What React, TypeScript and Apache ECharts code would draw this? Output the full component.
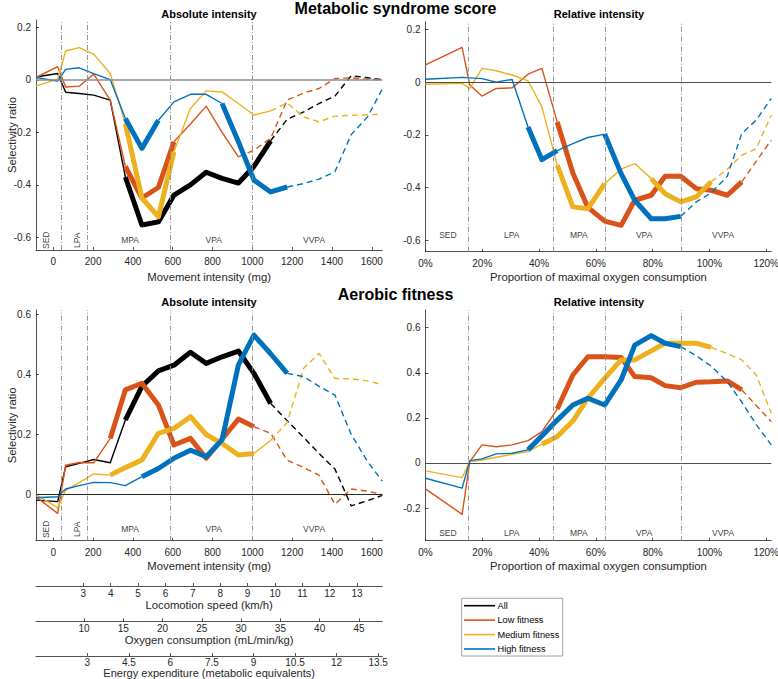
import React, { useEffect, useRef } from "react";
import * as echarts from "echarts";

// ---------- data ----------
const absX = [-87, 22, 62, 130, 203, 286, 362, 445, 528, 606, 689, 768, 848, 930, 1008, 1092, 1175, 1258, 1335, 1415, 1497, 1579, 1653];
const relX = [0, 12.9, 15.6, 19.9, 24.9, 30.5, 36.1, 41, 46.4, 51.9, 57.2, 63.1, 68.9, 73.7, 79.5, 84.4, 89.9, 95.4, 100.6, 106.3, 111.4, 116.5, 121.8];

// Metabolic syndrome score, absolute intensity
const msAbsAll = [0.011, 0.024, -0.047, -0.052, -0.058, -0.077, -0.37, -0.553, -0.541, -0.439, -0.4, -0.352, -0.375, -0.393, -0.33, -0.232, -0.15, -0.122, -0.09, -0.062, 0.016, 0.008, 0.001];
const msAbsLow = [0.009, 0.05, -0.027, -0.024, 0.022, -0.077, -0.33, -0.45, -0.41, -0.236, -0.168, -0.1, -0.2, -0.293, -0.268, -0.223, -0.077, -0.05, -0.033, 0.005, 0.008, 0.002, 0];
const msAbsMed = [-0.024, 0.003, 0.11, 0.123, 0.098, 0.024, -0.166, -0.45, -0.522, -0.274, -0.109, -0.042, -0.046, -0.09, -0.134, -0.118, -0.088, -0.141, -0.16, -0.138, -0.135, -0.133, -0.131];
const msAbsHigh = [0.009, -0.005, 0.04, 0.046, 0.024, 0.001, -0.147, -0.261, -0.154, -0.084, -0.055, -0.055, -0.09, -0.236, -0.382, -0.427, -0.408, -0.395, -0.378, -0.35, -0.208, -0.141, -0.035];
// Metabolic syndrome score, relative intensity
const msRelLow = [0.065, 0.132, -0.011, -0.053, -0.024, -0.022, 0.03, 0.052, -0.151, -0.345, -0.475, -0.527, -0.543, -0.448, -0.429, -0.357, -0.357, -0.404, -0.41, -0.429, -0.378, -0.3, -0.22];
const msRelMed = [-0.008, -0.005, -0.024, 0.052, 0.043, 0.027, 0.005, -0.094, -0.315, -0.473, -0.48, -0.385, -0.33, -0.309, -0.366, -0.423, -0.454, -0.435, -0.378, -0.33, -0.277, -0.252, -0.125];
const msRelHigh = [0.011, 0.018, 0.016, 0.013, 0.0, 0.01, -0.17, -0.294, -0.26, -0.233, -0.21, -0.197, -0.347, -0.448, -0.518, -0.518, -0.509, -0.454, -0.42, -0.357, -0.195, -0.144, -0.062];
// Aerobic fitness, absolute intensity
const afAbsAll = [-0.018, -0.023, 0.093, 0.104, 0.117, 0.106, 0.248, 0.36, 0.411, 0.43, 0.473, 0.436, 0.458, 0.477, 0.403, 0.303, 0.246, 0.19, 0.137, 0.085, -0.037, -0.02, -0.002];
const afAbsLow = [-0.007, -0.062, 0.098, 0.107, 0.106, 0.187, 0.348, 0.37, 0.298, 0.165, 0.187, 0.121, 0.185, 0.251, 0.226, 0.204, 0.115, 0.09, 0.065, -0.032, 0.019, 0.012, 0];
const afAbsMed = [0.0, -0.043, 0.015, 0.04, 0.069, 0.065, 0.09, 0.115, 0.204, 0.22, 0.259, 0.2, 0.17, 0.132, 0.137, 0.18, 0.24, 0.42, 0.469, 0.386, 0.385, 0.378, 0.365];
const afAbsHigh = [-0.01, -0.007, 0.019, 0.03, 0.041, 0.04, 0.03, 0.06, 0.087, 0.121, 0.148, 0.126, 0.182, 0.431, 0.53, 0.468, 0.403, 0.392, 0.36, 0.331, 0.2, 0.11, 0.045];
// Aerobic fitness, relative intensity
const afRelLow = [-0.115, -0.228, 0.006, 0.08, 0.072, 0.08, 0.099, 0.139, 0.239, 0.39, 0.471, 0.471, 0.468, 0.383, 0.378, 0.343, 0.334, 0.358, 0.36, 0.364, 0.324, 0.255, 0.183];
const afRelMed = [-0.035, -0.065, 0.006, 0.013, 0.025, 0.038, 0.05, 0.083, 0.117, 0.186, 0.287, 0.375, 0.457, 0.457, 0.497, 0.531, 0.531, 0.531, 0.513, 0.485, 0.457, 0.39, 0.22];
const afRelHigh = [-0.068, -0.112, 0.01, 0.018, 0.04, 0.043, 0.058, 0.12, 0.19, 0.257, 0.287, 0.257, 0.368, 0.523, 0.565, 0.531, 0.516, 0.475, 0.43, 0.36, 0.27, 0.17, 0.08];

// segments: [startIndex, endIndex, kind] kind: n = not significant, s = significant, e = extrapolated
const msAbsAllSeg = [[0, 6, "n"], [6, 15, "s"], [15, 22, "e"]];
const msAbsLowSeg = [[0, 6, "n"], [6, 9, "s"], [9, 13, "n"], [13, 22, "e"]];
const msAbsMedSeg = [[0, 6, "n"], [6, 9, "s"], [9, 15, "n"], [15, 22, "e"]];
const msAbsHighSeg = [[0, 6, "n"], [6, 8, "s"], [8, 12, "n"], [12, 16, "s"], [16, 22, "e"]];
const msRelLowSeg = [[0, 8, "n"], [8, 20, "s"], [20, 22, "e"]];
const msRelMedSeg = [[0, 8, "n"], [8, 11, "s"], [11, 14, "n"], [14, 18, "s"], [18, 22, "e"]];
const msRelHighSeg = [[0, 6, "n"], [6, 8, "s"], [8, 11, "n"], [11, 16, "s"], [16, 22, "e"]];
const afAbsAllSeg = [[0, 6, "n"], [6, 15, "s"], [15, 22, "e"]];
const afAbsLowSeg = [[0, 5, "n"], [5, 14, "s"], [14, 22, "e"]];
const afAbsMedSeg = [[0, 5, "n"], [5, 14, "s"], [14, 15, "n"], [15, 22, "e"]];
const afAbsHighSeg = [[0, 7, "n"], [7, 16, "s"], [16, 22, "e"]];
const afRelLowSeg = [[0, 8, "n"], [8, 20, "s"], [20, 22, "e"]];
const afRelMedSeg = [[0, 7, "n"], [7, 18, "s"], [18, 22, "e"]];
const afRelHighSeg = [[0, 6, "n"], [6, 16, "s"], [16, 22, "e"]];

// intensity zones
const zoneNames = ["SED", "LPA", "MPA", "VPA", "VVPA"];
const absBounds = [40, 171, 589, 1000];
const relBounds = [15, 45, 63.2, 90];
const absZoneX = [-25, 130, 386, 806, 1310];
const relZoneX = [7.9, 30.4, 54, 77, 104.8];

// ticks
const absTicks = [0, 200, 400, 600, 800, 1000, 1200, 1400, 1600];
const relTicks = [0, 20, 40, 60, 80, 100, 120];
const msTicks = [-0.6, -0.4, -0.2, 0, 0.2];
const afAbsTicks = [0, 0.2, 0.4, 0.6];
const afRelTicks = [-0.2, 0, 0.2, 0.4, 0.6];
const locoTicks = [3, 4, 5, 6, 7, 8, 9, 10, 11, 12, 13];
const o2Ticks = [10, 15, 20, 25, 30, 35, 40, 45];
const eeTicks = [3, 4.5, 6, 7.5, 9, 10.5, 12, 13.5];

const legendNames = ["All", "Low fitness", "Medium fitness", "High fitness"];

// ---------- styling ----------
const FONT = "'Liberation Sans', Arial, Helvetica, sans-serif";
const AX = "#262626";
const COL = ["#000000", "#D95319", "#EDB120", "#0072BD"];

function lineSeries(name: string, color: string, xs: number[], ys: number[], segs: any[], idx: number) {
  return segs.map(([s, e, kind]: any) => ({
    type: "line",
    name,
    xAxisIndex: idx,
    yAxisIndex: idx,
    data: xs.slice(s, e + 1).map((x, i) => [x, ys[s + i]]),
    showSymbol: false,
    symbol: "none",
    silent: true,
    clip: true,
    z: 3,
    lineStyle: {
      color,
      width: kind === "s" ? 5 : 1.4,
      type: kind === "e" ? [6, 4] : "solid",
      join: "round",
      cap: "butt",
    },
    itemStyle: { color },
  }));
}

function zoneSeries(idx: number, xs: number[], y: number, rot: number[], bounds: number[], zeroColor: string, zeroWidth: number) {
  return {
    type: "scatter",
    xAxisIndex: idx,
    yAxisIndex: idx,
    silent: true,
    z: 1,
    symbolSize: 1,
    itemStyle: { color: "rgba(0,0,0,0)" },
    label: {
      show: true,
      position: "inside",
      fontSize: 8.5,
      fontFamily: FONT,
      color: "#000000",
      formatter: (p: any) => p.data.name,
    },
    data: xs.map((x, i) => ({
      name: zoneNames[i],
      value: [x, y],
      label: { rotate: rot[i], offset: rot[i] ? [0, -2] : [0, 0] },
    })),
    markLine: {
      silent: true,
      symbol: ["none", "none"],
      label: { show: false },
      animation: false,
      data: [
        { yAxis: 0, lineStyle: { color: zeroColor, width: zeroWidth, type: "solid" } },
        ...bounds.map((b) => ({ xAxis: b, lineStyle: { color: "#8a8a8a", width: 0.9, type: [5, 2, 1, 2] } })),
      ],
    },
  };
}

const yFmt = (v: number) => (Math.abs(v) < 1e-9 ? "0" : String(+v.toFixed(2)));

function mainX(gridIndex: number, min: number, max: number, ticks: number[], name: string, fmt: any, nameGap: number) {
  return {
    type: "value",
    gridIndex,
    min,
    max,
    axisLine: { show: true, onZero: false, lineStyle: { color: AX, width: 0.8 } },
    axisTick: { show: true, inside: true, length: 3, customValues: ticks, lineStyle: { color: AX, width: 0.8 } },
    axisLabel: { show: true, customValues: ticks, formatter: fmt, margin: 6.5, fontSize: 10, color: AX, fontFamily: FONT },
    splitLine: { show: false },
    name,
    nameLocation: "middle",
    nameGap,
    nameMoveOverlap: false,
    nameTextStyle: { fontSize: 11.3, color: AX, fontFamily: FONT },
  };
}

function mainY(gridIndex: number, min: number, max: number, ticks: number[], name: string) {
  return {
    type: "value",
    gridIndex,
    min,
    max,
    axisLine: { show: true, onZero: false, lineStyle: { color: AX, width: 0.8 } },
    axisTick: { show: true, inside: true, length: 3, customValues: ticks, lineStyle: { color: AX, width: 0.8 } },
    axisLabel: { show: true, customValues: ticks, formatter: yFmt, margin: 5, fontSize: 10, color: AX, fontFamily: FONT },
    splitLine: { show: false },
    name,
    nameLocation: "middle",
    nameRotate: 90,
    nameGap: 18.6,
    nameMoveOverlap: false,
    nameTextStyle: { fontSize: 11.3, color: AX, fontFamily: FONT },
  };
}

function extraX(gridIndex: number, min: number, max: number, ticks: number[], name: string, labelMargin: number, nameGap: number, nameSize: number) {
  return {
    type: "value",
    gridIndex,
    min,
    max,
    axisLine: { show: true, onZero: false, lineStyle: { color: AX, width: 0.8 } },
    axisTick: { show: true, inside: true, length: 3, customValues: ticks, lineStyle: { color: AX, width: 0.8 } },
    axisLabel: { show: true, customValues: ticks, margin: labelMargin, fontSize: 10, color: AX, fontFamily: FONT },
    splitLine: { show: false },
    name,
    nameLocation: "middle",
    nameGap,
    nameMoveOverlap: false,
    nameTextStyle: { fontSize: nameSize, color: AX, fontFamily: FONT },
  };
}

function hiddenY(gridIndex: number) {
  return { type: "value", gridIndex, min: 0, max: 1, show: false };
}

function txt(text: string, x: number, y: number, size: number, weight: string, align = "center") {
  return {
    type: "text",
    x,
    y,
    silent: true,
    style: {
      text,
      fontSize: size,
      fontWeight: weight,
      fontFamily: FONT,
      fill: "#000",
      align,
      verticalAlign: "middle",
      textAlign: align,
      textVerticalAlign: "middle",
    },
  };
}

export default function App() {
  const ref = useRef<HTMLDivElement>(null);

  useEffect(() => {
    if (!ref.current) return;
    const chart = echarts.init(ref.current, null, { renderer: "svg" });

    const W_ABS = 346.3;
    const W_REL = 345.8;
    const grid = [
      { left: 36, top: 20, width: W_ABS, height: 230 },
      { left: 425.5, top: 21.7, width: W_REL, height: 230 },
      { left: 36, top: 310, width: W_ABS, height: 230.7 },
      { left: 425.5, top: 310, width: W_REL, height: 230.7 },
      { left: 36, top: 585, width: W_ABS, height: 1 },
      { left: 36, top: 620.3, width: W_ABS, height: 1 },
      { left: 36, top: 655, width: W_ABS, height: 1 },
    ].map((g) => ({ ...g, containLabel: false, outerBoundsMode: "none" }));

    const pct = (v: number) => v + "%";
    const xAxis = [
      mainX(0, -87, 1653, absTicks, "Movement intensity (mg)", String, 21),
      mainX(1, 0, 121.8, relTicks, "Proportion of maximal oxygen consumption", pct, 19.5),
      mainX(2, -87, 1653, absTicks, "Movement intensity (mg)", String, 20),
      mainX(3, 0, 121.8, relTicks, "Proportion of maximal oxygen consumption", pct, 20),
      extraX(4, 1.272, 13.92, locoTicks, "Locomotion speed (km/h)", 2.3, 13, 11.3),
      extraX(5, 3.89, 47.97, o2Ticks, "Oxygen consumption (mL/min/kg)", 2.3, 13, 11.3),
      extraX(6, 1.149, 13.65, eeTicks, "Energy expenditure (metabolic equivalents)", 1.3, 11.9, 11),
    ];
    const yAxis = [
      mainY(0, -0.648, 0.228, msTicks, "Selectivity ratio"),
      mainY(1, -0.643, 0.229, msTicks, ""),
      mainY(2, -0.1527, 0.6133, afAbsTicks, "Selectivity ratio"),
      mainY(3, -0.345, 0.6785, afRelTicks, ""),
      hiddenY(4),
      hiddenY(5),
      hiddenY(6),
    ];

    const series: any[] = [
      zoneSeries(0, absZoneX, -0.611, [90, 90, 0, 0, 0], absBounds, "#8c8c8c", 1.5),
      zoneSeries(1, relZoneX, -0.581, [0, 0, 0, 0, 0], relBounds, "#4d4d4d", 1),
      zoneSeries(2, absZoneX, -0.115, [90, 90, 0, 0, 0], absBounds, "#262626", 1),
      zoneSeries(3, relZoneX, -0.312, [0, 0, 0, 0, 0], relBounds, "#4d4d4d", 1),
      ...lineSeries(legendNames[0], COL[0], absX, msAbsAll, msAbsAllSeg, 0),
      ...lineSeries(legendNames[1], COL[1], absX, msAbsLow, msAbsLowSeg, 0),
      ...lineSeries(legendNames[2], COL[2], absX, msAbsMed, msAbsMedSeg, 0),
      ...lineSeries(legendNames[3], COL[3], absX, msAbsHigh, msAbsHighSeg, 0),
      ...lineSeries(legendNames[1], COL[1], relX, msRelLow, msRelLowSeg, 1),
      ...lineSeries(legendNames[2], COL[2], relX, msRelMed, msRelMedSeg, 1),
      ...lineSeries(legendNames[3], COL[3], relX, msRelHigh, msRelHighSeg, 1),
      ...lineSeries(legendNames[0], COL[0], absX, afAbsAll, afAbsAllSeg, 2),
      ...lineSeries(legendNames[1], COL[1], absX, afAbsLow, afAbsLowSeg, 2),
      ...lineSeries(legendNames[2], COL[2], absX, afAbsMed, afAbsMedSeg, 2),
      ...lineSeries(legendNames[3], COL[3], absX, afAbsHigh, afAbsHighSeg, 2),
      ...lineSeries(legendNames[1], COL[1], relX, afRelLow, afRelLowSeg, 3),
      ...lineSeries(legendNames[2], COL[2], relX, afRelMed, afRelMedSeg, 3),
      ...lineSeries(legendNames[3], COL[3], relX, afRelHigh, afRelHighSeg, 3),
      { type: "scatter", xAxisIndex: 4, yAxisIndex: 4, data: [] },
      { type: "scatter", xAxisIndex: 5, yAxisIndex: 5, data: [] },
      { type: "scatter", xAxisIndex: 6, yAxisIndex: 6, data: [] },
    ];

    const legendRows = [605.7, 620.1, 634.6, 649];
    const legendEls: any[] = [
      {
        type: "rect",
        silent: true,
        shape: { x: 461.7, y: 598.3, width: 101, height: 57.7 },
        style: { fill: "#ffffff", stroke: "#8a8a8a", lineWidth: 0.8 },
      },
    ];
    legendNames.forEach((n, i) => {
      legendEls.push({
        type: "line",
        silent: true,
        shape: { x1: 464, y1: legendRows[i], x2: 495, y2: legendRows[i] },
        style: { stroke: COL[i], lineWidth: 1.6 },
      });
      legendEls.push(txt(n, 497.5, legendRows[i], 9.2, "normal", "left"));
    });

    chart.setOption({
      animation: false,
      backgroundColor: "#ffffff",
      textStyle: { fontFamily: FONT },
      grid,
      xAxis,
      yAxis,
      series,
      graphic: [
        txt("Metabolic syndrome score", 395.5, 8, 16, "bold"),
        txt("Aerobic fitness", 395.5, 294, 16, "bold"),
        txt("Absolute intensity", 209, 14, 11, "bold"),
        txt("Relative intensity", 599, 14, 11, "bold"),
        txt("Absolute intensity", 209, 302, 11, "bold"),
        txt("Relative intensity", 599, 302, 11, "bold"),
        ...legendEls,
      ],
    });

    return () => chart.dispose();
  }, []);

  return (
    <div
      ref={ref}
      style={{ position: "absolute", left: 0, top: 0, width: 778, height: 679, background: "#fff" }}
    />
  );
}
